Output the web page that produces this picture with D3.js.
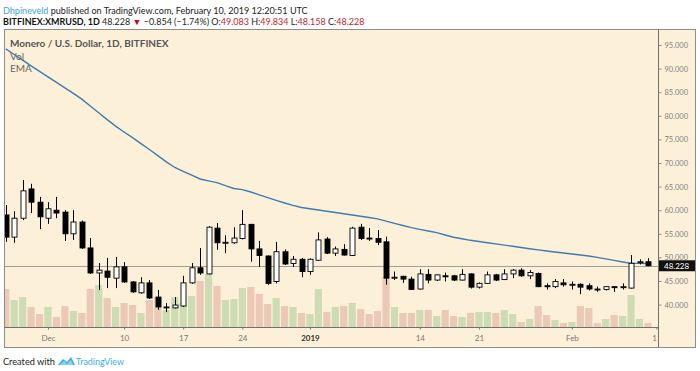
<!DOCTYPE html>
<html lang="en">
<head>
<meta charset="utf-8">
<title>XMRUSD 1D</title>
<script src="https://d3js.org/d3.v7.min.js"></script>
<style>
  body { margin: 0; background: #fff; }
  text { font-family: Lato, "Open Sans", sans-serif; }
</style>
</head>
<body>
<script>
// daily candles, Nov 26 2018 .. Feb 10 2019
var opens  = [59.0,54.3,58.3,64.5,61.7,58.3,60.0,59.6,55.0,57.5,52.0,46.7,47.1,45.6,48.0,44.8,42.5,44.6,41.6,39.4,
              39.3,39.7,44.6,47.8,46.5,56.2,53.1,53.1,54.0,57.0,51.8,50.3,44.9,51.2,48.7,49.6,47.0,49.4,53.9,50.9,
              51.7,50.4,56.4,54.1,54.0,53.3,45.7,46.0,45.4,43.3,46.4,45.2,46.1,46.1,45.2,46.5,43.7,44.5,46.3,45.3,
              46.5,47.3,46.1,46.6,44.0,43.8,44.6,44.2,44.3,44.0,43.3,43.2,43.8,43.7,43.5,48.9,49.083];
var highs  = [61.1,59.8,66.4,65.6,62.8,61.7,62.8,60.0,60.0,57.8,54.1,48.8,49.9,50.1,49.0,45.0,45.8,45.2,43.1,40.3,
              41.6,46.1,48.8,52.0,56.6,57.3,54.7,56.4,60.0,57.1,53.5,50.4,53.3,51.7,50.3,49.9,49.8,55.3,54.3,52.3,
              52.8,56.5,57.1,56.2,55.8,54.4,47.0,46.1,45.9,47.5,47.5,46.4,46.8,46.3,47.5,46.6,44.7,47.0,46.5,47.5,
              47.5,47.7,47.3,46.8,44.5,45.4,45.4,44.9,44.5,44.5,43.8,43.9,43.9,44.5,50.5,49.6,49.834];
var lows   = [53.3,53.1,57.9,59.4,56.0,57.1,58.3,53.5,53.7,51.8,46.5,43.1,43.5,43.5,44.6,42.5,42.3,41.2,38.9,38.4,
              39.2,39.5,44.4,46.3,46.4,51.6,50.9,52.9,53.8,49.1,48.0,44.2,44.5,48.4,48.0,45.8,46.3,49.3,50.7,50.3,
              50.4,50.3,53.7,53.5,52.6,44.2,45.2,44.6,43.1,43.2,44.5,45.0,44.9,45.0,45.1,43.4,43.4,44.4,45.0,45.2,
              45.6,45.9,45.4,43.7,43.2,43.5,43.8,43.2,42.2,43.0,42.7,43.0,42.7,43.2,43.4,48.5,48.158];
var closes = [54.3,58.3,64.1,61.7,58.6,60.3,59.4,55.0,57.5,52.0,46.7,47.3,45.8,48.0,44.8,42.7,44.6,41.4,39.5,39.5,
              39.9,44.6,47.8,46.7,56.4,53.1,53.2,54.1,57.0,51.8,50.4,44.5,51.2,48.6,49.6,47.0,49.6,53.7,50.9,51.8,
              50.5,56.2,54.0,53.9,53.2,45.6,45.8,45.4,43.2,46.5,45.2,46.3,46.0,45.2,46.4,43.7,44.5,46.3,45.2,46.5,
              47.3,46.1,46.8,43.8,43.9,44.9,44.2,44.3,43.7,43.3,43.25,43.8,43.7,43.8,48.75,49.083,48.228];
var volumes = [38,27,30,20,13,20,10,21,16,14,38,42,29,20,24,22,14,27,30,17,
               30,24,31,46,53,41,27,28,39,40,33,23,29,21,20,14,13,38,15,20,
               21,24,18,13,16,50,20,14,14,17,17,11,17,11,10,14,15,15,14,17,
               13,5,8,21,12,7,4,5,21,19,4,8,12,11,32,8,4];
var ema = [94.17,92.99,91.78,90.59,89.41,88.24,87.08,85.91,84.75,83.52,82.08,80.64,79.19,77.82,76.57,75.36,74.11,72.86,71.55,70.25,
           69.05,68.24,67.42,66.61,66.21,65.83,65.19,64.60,64.36,63.86,63.26,62.67,62.08,61.53,61.02,60.57,60.30,60.04,59.79,59.51,
           59.24,58.98,58.71,58.45,58.16,57.69,57.22,56.76,56.31,55.95,55.59,55.25,54.75,54.26,53.96,53.62,53.37,53.11,52.86,52.61,
           52.35,52.10,51.84,51.59,51.36,51.14,50.93,50.72,50.51,50.30,50.00,49.70,49.36,49.03,48.73,48.73,48.71];

var priceTicks = [40,45,50,55,60,65,70,75,80,85,90,95];
var tickDates = ["2018-12-01","2018-12-10","2018-12-17","2018-12-24","2019-01-01","2019-01-14","2019-01-21","2019-02-01","2019-02-11"];
var tickLabels = ["Dec","10","17","24","2019","14","21","Feb","11"];
var lastPrice = 48.228;

var w = 700, h = 371;
var pLeft = 4, pTop = 29, plotRight = 658, plotBottom = 327, pRight = 695, pBottom = 347;

var dates = d3.utcDay.range(new Date(Date.UTC(2018,10,26)), new Date(Date.UTC(2019,1,11)));
var parse = d3.utcParse("%Y-%m-%d");

var x = d3.scaleUtc()
  .domain([parse("2018-12-01"), parse("2019-02-11")])
  .range([48, 656.4]);
var y = d3.scaleLinear().domain([40, 95]).range([304.6, 45]);
var yVol = d3.scaleLinear().domain([0, 100]).range([plotBottom, plotBottom - 100]);

var svg = d3.select("body").append("svg").attr("width", w).attr("height", h);

// fit a text to a given width by scaling its font size
function fitWidth(t, width) {
  var fs = +t.attr("font-size");
  var cur = t.node().getComputedTextLength();
  if (cur > 0) t.attr("font-size", fs * width / cur);
}

// header
var h1 = svg.append("text").attr("x", 3).attr("y", 13.5).attr("font-size", 10).attr("fill", "#222");
h1.append("tspan").attr("fill", "#3aa6dd").text("Dhpineveld");
h1.append("tspan").text(" published on TradingView.com, February 10, 2019 12:20:51 UTC");
fitWidth(h1, 305);

var h2 = svg.append("text").attr("x", 3).attr("y", 24.5).attr("font-size", 10).attr("fill", "#222");
h2.append("tspan").attr("font-weight", "bold").attr("fill", "#111").text("BITFINEX:XMRUSD, 1D");
h2.append("tspan").text("  48.228 ");
h2.append("tspan").attr("fill", "#d0021b").text("\u25BC");
h2.append("tspan").text(" \u22120.854 (\u22121.74%) O:");
h2.append("tspan").attr("fill", "#c0272d").text("49.083");
h2.append("tspan").text(" H:");
h2.append("tspan").attr("fill", "#c0272d").text("49.834");
h2.append("tspan").text(" L:");
h2.append("tspan").attr("fill", "#c0272d").text("48.158");
h2.append("tspan").text(" C:");
h2.append("tspan").attr("fill", "#c0272d").text("48.228");
fitWidth(h2, 362);

// panel
svg.append("rect").attr("x", pLeft + 0.5).attr("y", pTop + 0.5)
  .attr("width", pRight - pLeft).attr("height", pBottom - pTop)
  .attr("fill", "#fdf0d9").attr("stroke", "#8d8d8d");

svg.append("defs").append("clipPath").attr("id", "plot")
  .append("rect").attr("x", pLeft + 1).attr("y", pTop + 1)
  .attr("width", plotRight - pLeft - 1).attr("height", plotBottom - pTop - 1);

var plot = svg.append("g").attr("clip-path", "url(#plot)");

// volume
plot.selectAll("rect.vol").data(dates).enter().append("rect")
  .attr("class", "vol")
  .attr("x", function(d) { return x(d) - 3.6; })
  .attr("width", 7.2)
  .attr("y", function(d, i) { return yVol(volumes[i]); })
  .attr("height", function(d, i) { return plotBottom - yVol(volumes[i]); })
  .attr("fill", function(d, i) { return closes[i] >= opens[i] ? "#cddcb3" : "#ecc9b7"; });

// last price line
plot.append("line").attr("x1", pLeft).attr("x2", plotRight)
  .attr("y1", Math.round(y(lastPrice)) + 0.5).attr("y2", Math.round(y(lastPrice)) + 0.5)
  .attr("stroke", "#9f9f9f").attr("stroke-width", 1);

// EMA
plot.append("path").datum(dates)
  .attr("fill", "none").attr("stroke", "#3f7bb0").attr("stroke-width", 1.4)
  .attr("d", d3.line().x(function(d) { return x(d); }).y(function(d, i) { return y(ema[i]); }));

// candles
var c = plot.selectAll("g.candle").data(dates).enter().append("g").attr("class", "candle");
c.append("line")
  .attr("x1", function(d) { return Math.round(x(d)) + 0.5; })
  .attr("x2", function(d) { return Math.round(x(d)) + 0.5; })
  .attr("y1", function(d, i) { return y(highs[i]); })
  .attr("y2", function(d, i) { return y(lows[i]); })
  .attr("stroke", "#000").attr("stroke-width", 1);
c.append("rect")
  .attr("x", function(d) { return Math.round(x(d)) - 2; })
  .attr("width", 5)
  .attr("y", function(d, i) { return y(Math.max(opens[i], closes[i])); })
  .attr("height", function(d, i) { return Math.max(1, Math.abs(y(opens[i]) - y(closes[i]))); })
  .attr("fill", function(d, i) { return closes[i] >= opens[i] ? "#fff" : "#000"; })
  .attr("stroke", "#000").attr("stroke-width", 0.9);

// legend
svg.append("text").attr("x", 10).attr("y", 47).attr("font-size", 10).attr("font-weight", "bold")
  .attr("fill", "#555").text("Monero / U.S. Dollar, 1D, BITFINEX");
svg.append("text").attr("x", 10).attr("y", 60).attr("font-size", 10).attr("fill", "#666").text("Vol");
svg.append("text").attr("x", 10).attr("y", 71.5).attr("font-size", 10).attr("fill", "#666").text("EMA");

// separators
svg.append("line").attr("x1", plotRight + 0.5).attr("x2", plotRight + 0.5).attr("y1", pTop).attr("y2", pBottom)
  .attr("stroke", "#707070");
svg.append("line").attr("x1", pLeft).attr("x2", plotRight).attr("y1", plotBottom + 0.5).attr("y2", plotBottom + 0.5)
  .attr("stroke", "#707070");

// price axis
var yAxis = svg.append("g").attr("transform", "translate(" + (plotRight + 0.5) + ",0)")
  .call(d3.axisRight(y).tickValues(priceTicks).tickFormat(d3.format(".3f")).tickSize(3).tickPadding(3));
yAxis.select(".domain").remove();
yAxis.selectAll("line").attr("stroke", "#888");
yAxis.selectAll("text").attr("font-size", 7.5).attr("fill", "#808080").attr("font-family", "Lato, sans-serif");

// last price label
svg.append("rect").attr("x", plotRight + 1).attr("y", y(lastPrice) - 5.5).attr("width", pRight - plotRight - 1).attr("height", 11)
  .attr("fill", "#111");
svg.append("text").attr("x", plotRight + 6).attr("y", y(lastPrice) + 3).attr("font-size", 8).attr("fill", "#fff")
  .text(d3.format(".3f")(lastPrice));

// time axis
svg.append("defs").append("clipPath").attr("id", "xax")
  .append("rect").attr("x", pLeft).attr("y", plotBottom).attr("width", plotRight - pLeft).attr("height", pBottom - plotBottom);
var xAxis = svg.append("g").attr("clip-path", "url(#xax)")
  .append("g").attr("transform", "translate(0," + (plotBottom + 0.5) + ")")
  .call(d3.axisBottom(x).tickValues(tickDates.map(parse))
    .tickFormat(function(d, i) { return tickLabels[i]; }).tickSize(2).tickPadding(6));
xAxis.select(".domain").remove();
xAxis.selectAll("line").attr("stroke", "#777");
xAxis.selectAll("text").attr("font-size", 8).attr("font-family", "Lato, sans-serif")
  .attr("font-weight", function(d, i) { return tickLabels[i] === "2019" ? "bold" : null; })
  .attr("fill", function(d, i) { return tickLabels[i] === "2019" ? "#333" : "#777"; });

// footer
var f1 = svg.append("text").attr("x", 3).attr("y", 365).attr("font-size", 10).attr("fill", "#222").text("Created with");
fitWidth(f1, 52);
var logo = svg.append("g").attr("transform", "translate(58,356)");
logo.append("path").attr("d", "M0,9 L5,3 L9,6 L13,1 L17,9 Z").attr("fill", "#3ab0e2");
logo.append("path").attr("d", "M2,9 L6,5 L9,8 L13,4 L15,9 Z").attr("fill", "#8fd3f0");
var f2 = svg.append("text").attr("x", 76).attr("y", 365).attr("font-size", 10).attr("fill", "#3ab0e2").text("TradingView");
fitWidth(f2, 48);
</script>
</body>
</html>
